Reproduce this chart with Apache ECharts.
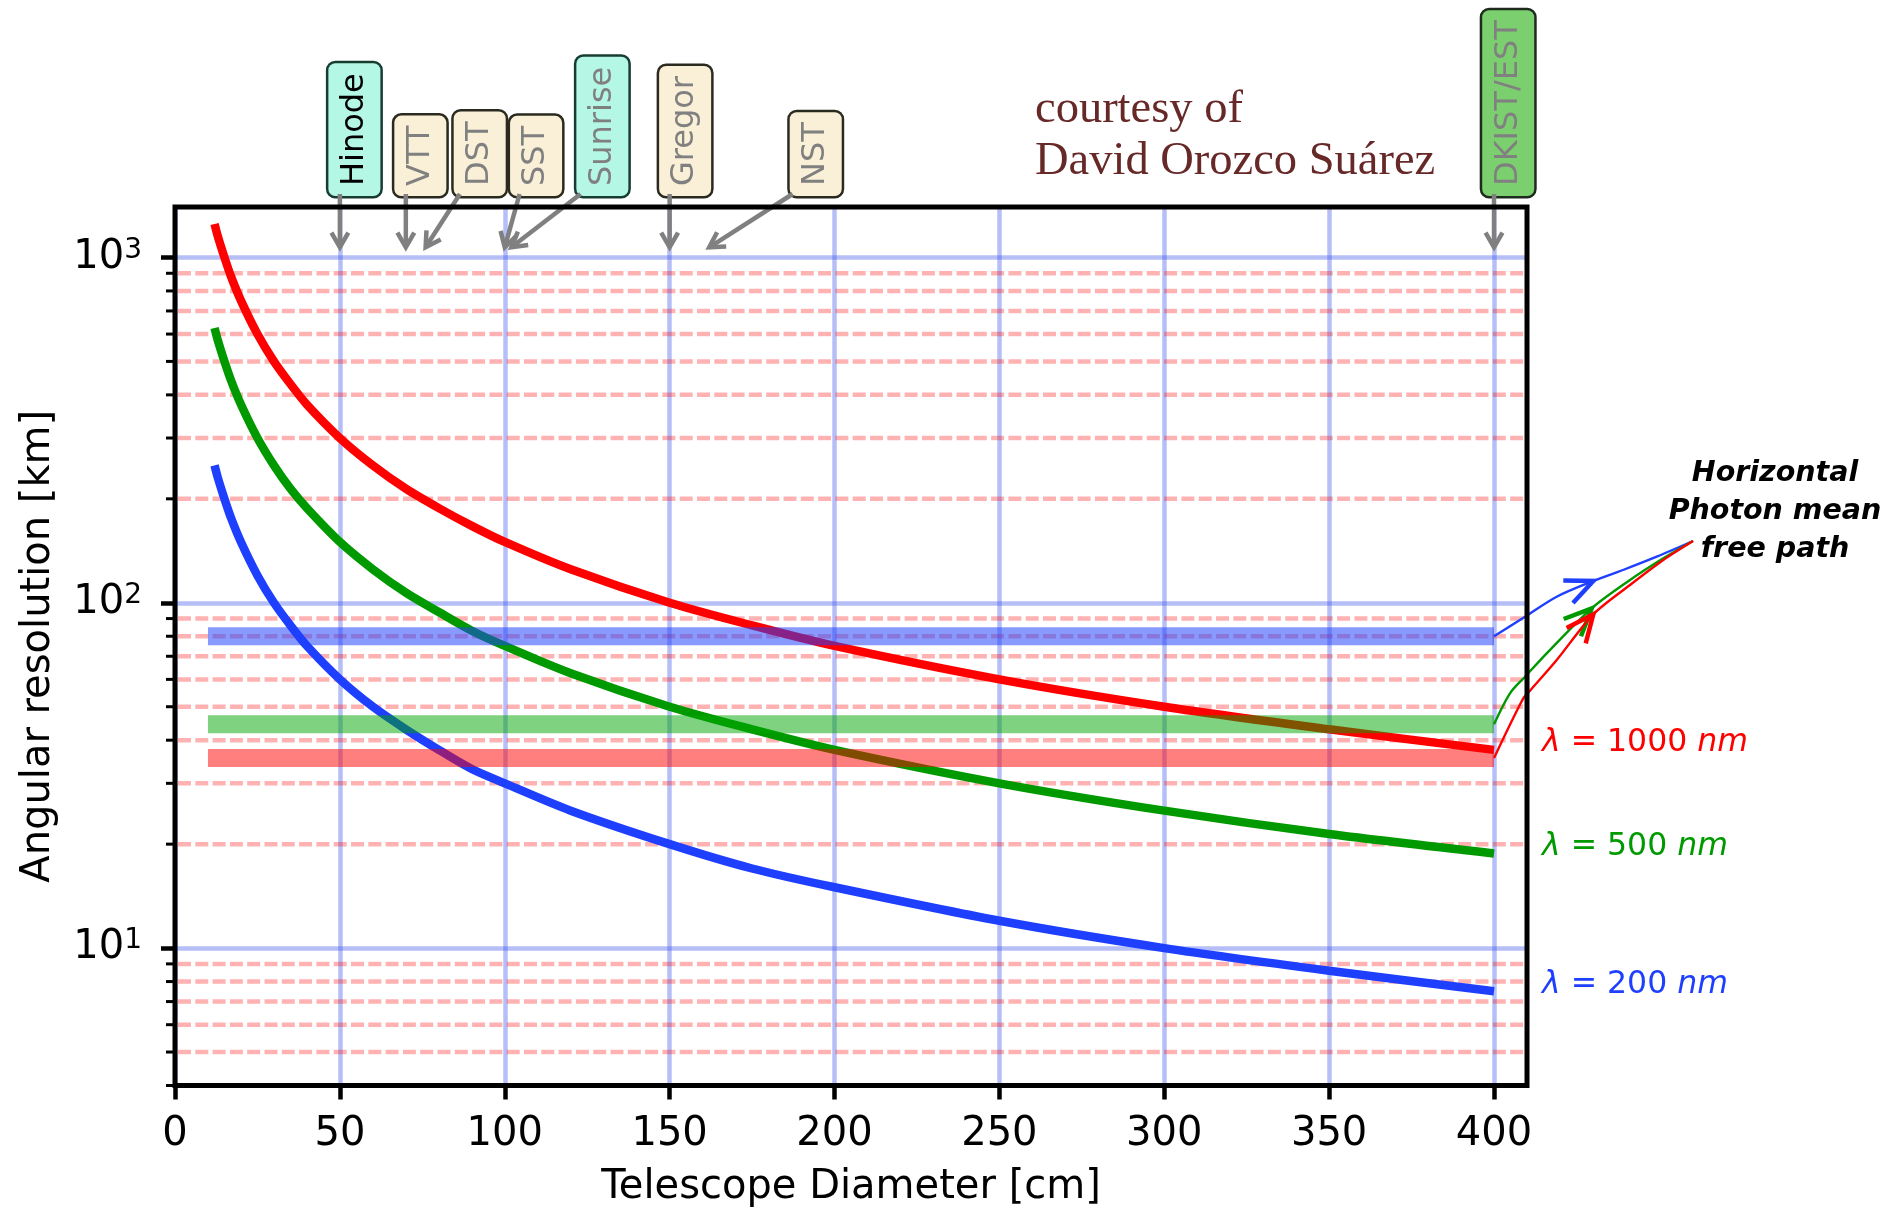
<!DOCTYPE html>
<html><head><meta charset="utf-8">
<script src="https://cdn.jsdelivr.net/npm/echarts@6/dist/echarts.min.js"></script>
<style>html,body{margin:0;padding:0;background:#fff}#c{width:1894px;height:1210px}</style>
</head><body><div id="c"></div>
<script>
// ---------------- data ----------------
const diameters = [12,13,15,17,20,25,30,35,40,50,60,70,80,90,100,120,150,175,200,250,300,350,400];
const red1000   = [1250,1150,1000,880,750,600,500,430,375,300,250,214,188,167,150,125,100,86,75,60,50,43,37.5];
const green500  = [625,575,500,440,375,300,250,214,188,150,125,107,94,83,75,62.5,50,43,37.5,30,25,21.4,18.8];
const blue200   = [250,230,200,176,150,120,100,86,75,60,50,43,37.5,33,30,25,20,17,15,12,10,8.6,7.5];

// horizontal photon mean free path bands (km)
const bandX      = [10, 400];
const bandBlue   = 80;
const bandGreen  = 44.5;
const bandRed    = 35.5;

// axes
const xTicks      = [0,50,100,150,200,250,300,350,400];
const yMajor      = [10,100,1000];
const yMinor      = [4,5,6,7,8,9,20,30,40,50,60,70,80,90,200,300,400,500,600,700,800,900];
const xMin = 0, xMax = 410, yMin = 4, yMax = 1400;

// telescopes: name, diameter pointed at (cm)
const telNames  = ['Hinode','VTT','DST','SST','Sunrise','Gregor','NST','DKIST/EST'];
const telDiam   = [50, 70, 76, 100, 102, 150, 162, 400];
const telTipKm  = 1070;

const waveLabels = ['1000','500','200'];

// ---------------- annotation layout (not data) ----------------
const telBoxX   = [54.4, 74.4, 92.4, 109.5, 129.6, 154.7, 194.3, 404.3]; // box centre, in axis units
const telTailX  = [50, 70, 86.4, 104.5, 123, 150, 187.3, 400];
const telStyle  = ['cyan','beige','beige','beige','cyan','beige','beige','green'];

const FONT = '"DejaVu Sans", sans-serif';
const cRed = '#ff0000', cGreen = '#009a00', cBlue = '#1f3fff';
const gridBlue = 'rgba(60,85,235,0.38)';
const dashRed = 'rgba(255,0,0,0.3)';

const chart = echarts.init(document.getElementById('c'), null, {renderer:'canvas'});

function pairs(xs, ys){ return xs.map((x,i)=>[x, ys[i]]); }

const option = {
  animation: false,
  backgroundColor: '#fff',
  grid: { left: 175, top: 207, width: 1352, height: 878.5, show: false, containLabel: false, outerBoundsMode: 'none' },
  xAxis: {
    type: 'value', min: xMin, max: xMax, interval: 50,
    axisLine: { show: false },
    axisTick: { show: true, length: 14, inside: false, customValues: xTicks, lineStyle: { color: '#000', width: 4.5 } },
    axisLabel: { customValues: xTicks, fontSize: 40, fontFamily: FONT, color: '#000', margin: 29 },
    splitLine: { show: true, lineStyle: { color: gridBlue, width: 4.5 } },
    name: 'Telescope Diameter [cm]', nameLocation: 'middle', nameGap: 82,
    nameTextStyle: { fontSize: 40, fontFamily: FONT, color: '#000' }
  },
  yAxis: {
    type: 'log', logBase: 10, min: yMin, max: yMax,
    axisLine: { show: false },
    axisTick: { show: true, length: 14, inside: false, customValues: yMajor, lineStyle: { color: '#000', width: 4.5 } },
    axisLabel: {
      customValues: yMajor, margin: 33, fontFamily: FONT, color: '#000',
      formatter: v => '{b|10}{s|' + Math.round(Math.log10(v)) + '}',
      rich: {
        b: { fontSize: 40, fontFamily: FONT, color: '#000' },
        s: { fontSize: 28, fontFamily: FONT, color: '#000', verticalAlign: 'top', padding: [0,0,14,0] }
      }
    },
    splitLine: { show: true, lineStyle: { color: gridBlue, width: 4.5 } },
    minorTick: { show: false }, minorSplitLine: { show: false },
    name: 'Angular resolution [km]', nameLocation: 'middle', nameGap: 116,
    nameTextStyle: { fontSize: 40, fontFamily: FONT, color: '#000' }
  },
  series: [
    {
      type: 'custom', coordinateSystem: 'cartesian2d', z: 2, silent: true,
      data: yMinor.map(v => [xMin, v]),
      renderItem: (params, api) => {
        const v = api.value(1);
        const p0 = api.coord([xMin, v]);
        const p1 = api.coord([xMax, v]);
        const ch = [{ type: 'line', shape: { x1: p0[0]-9, y1: p0[1], x2: p0[0], y2: p0[1] }, style: { stroke: '#000', lineWidth: 3 } }];
        if (v >= 5) ch.push({ type: 'line', shape: { x1: p0[0]+3, y1: p0[1], x2: p1[0]-3, y2: p1[1] },
          style: { stroke: dashRed, lineWidth: 4.5, lineDash: [13, 4.3] } });
        return { type: 'group', children: ch };
      }
    },
    { type: 'line', name: 'λ = 1000 nm', data: pairs(diameters, red1000), smooth: 0.3, showSymbol: false, z: 3,
      lineStyle: { color: cRed, width: 8.5, cap: 'butt' } },
    { type: 'line', name: 'λ = 500 nm', data: pairs(diameters, green500), smooth: 0.3, showSymbol: false, z: 3,
      lineStyle: { color: cGreen, width: 8.5, cap: 'butt' } },
    { type: 'line', name: 'λ = 200 nm', data: pairs(diameters, blue200), smooth: 0.3, showSymbol: false, z: 3,
      lineStyle: { color: cBlue, width: 8.5, cap: 'butt' } },
    { type: 'line', data: bandX.map(x => [x, bandBlue]), showSymbol: false, z: 4,
      lineStyle: { color: 'rgba(32,64,255,0.53)', width: 18, cap: 'butt' } },
    { type: 'line', data: bandX.map(x => [x, bandGreen]), showSymbol: false, z: 4,
      lineStyle: { color: 'rgba(0,165,0,0.5)', width: 18, cap: 'butt' } },
    { type: 'line', data: bandX.map(x => [x, bandRed]), showSymbol: false, z: 4,
      lineStyle: { color: 'rgba(255,0,0,0.5)', width: 18, cap: 'butt' } }
  ]
};
chart.setOption(option);

// ---------------- annotations ----------------
const px = (x, y) => chart.convertToPixel({ gridIndex: 0 }, [x, y]);
const tl = px(xMin, yMax), br = px(xMax, yMin);
const g = [];

function arrow(x1, y1, x2, y2, color, w, len, ang, z){
  const a = Math.atan2(y2 - y1, x2 - x1);
  const l = [x2 - len * Math.cos(a - ang), y2 - len * Math.sin(a - ang)];
  const r = [x2 - len * Math.cos(a + ang), y2 - len * Math.sin(a + ang)];
  g.push({ type: 'line', z: z, shape: { x1, y1, x2, y2 }, style: { stroke: color, lineWidth: w } });
  g.push({ type: 'polyline', z: z, shape: { points: [l, [x2, y2], r] }, style: { stroke: color, lineWidth: w, fill: null } });
}
function head(tip, from, color, w, len, ang){
  const a = Math.atan2(tip[1] - from[1], tip[0] - from[0]);
  const l = [tip[0] - len * Math.cos(a - ang), tip[1] - len * Math.sin(a - ang)];
  const r = [tip[0] - len * Math.cos(a + ang), tip[1] - len * Math.sin(a + ang)];
  g.push({ type: 'polyline', z: 60, shape: { points: [l, tip, r] }, style: { stroke: color, lineWidth: w, fill: null } });
}

// frame
g.push({ type: 'rect', z: 100, shape: { x: tl[0], y: tl[1], width: br[0] - tl[0], height: br[1] - tl[1] },
  style: { fill: null, stroke: '#000', lineWidth: 5 } });

// telescope labels
const boxFill = { cyan: '#b4f7e4', beige: '#faf0d8', green: '#7ccf6e' };
const boxStroke = { cyan: '#173d33', beige: '#2b2a1f', green: '#1d2b1d' };
const boxBottom = tl[1] - 11;
telNames.forEach((name, i) => {
  const cx = px(telBoxX[i], yMax)[0];
  const st = telStyle[i];
  g.push({
    type: 'text', z: 90, x: cx, y: boxBottom, rotation: Math.PI / 2,
    style: {
      text: name, fontSize: 32, fontFamily: FONT, fill: name === 'Hinode' ? '#000' : '#808080',
      align: 'left', verticalAlign: 'middle', lineHeight: 36,
      backgroundColor: boxFill[st], borderColor: boxStroke[st], borderWidth: 2.5, borderRadius: 7, padding: [8, 10]
    }
  });
  const tail = px(telTailX[i], yMax)[0];
  const tip = px(telDiam[i], telTipKm);
  arrow(tail, boxBottom - 2, tip[0], tip[1], '#808080', 4.5, 17, 0.52, 95);
});

// courtesy
g.push({ type: 'text', z: 90, x: 1035, y: 84, style: {
  text: 'courtesy of\nDavid Orozco Suárez', fontSize: 46.5, fontFamily: '"Liberation Serif", serif',
  fill: '#672828', lineHeight: 52, align: 'left', verticalAlign: 'top' } });

// photon mean free path text
g.push({ type: 'text', z: 90, x: 1775, y: 512, style: {
  text: 'Horizontal\nPhoton mean\nfree path', fontSize: 28.5, fontFamily: FONT, fontStyle: 'italic', fontWeight: 'bold',
  fill: '#000', lineHeight: 38, align: 'center', verticalAlign: 'middle' } });

// curved arrows from band ends to the text
const endPt = [1693, 541];
const photonPaths = [
  { c: cBlue,  v: bandBlue,  pts: [[1525,616.7],[1556.7,596.7],[1593.3,581],[1623,570],[1656.7,556.7]], tip: 2 },
  { c: cGreen, v: bandGreen, pts: [[1510,693.3],[1525,676.7],[1546.7,653.3],[1591.7,608.3],[1630,580],[1663.3,558.3]], tip: 3 },
  { c: cRed,   v: bandRed,   pts: [[1523.3,698.3],[1530,690.7],[1556.7,660],[1593.3,614.3],[1630,585],[1663.3,560]], tip: 3 }
];
photonPaths.forEach(p => {
  const s = px(bandX[1], p.v);
  const pts = [s].concat(p.pts, [endPt]);
  g.push({ type: 'polyline', z: 60, shape: { points: pts, smooth: 0.3 }, style: { stroke: p.c, lineWidth: 2.4, fill: null } });
  head(p.pts[p.tip], p.pts[p.tip - 1], p.c, 4.5, 30, 0.42);
});

// wavelength labels
const waveColors = [cRed, cGreen, cBlue];
const waveY = [743, 847, 985];
waveLabels.forEach((w, i) => {
  g.push({ type: 'text', z: 90, x: br[0] + 15, y: waveY[i], style: {
    text: '{i|λ}{n| = ' + w + ' }{i|nm}', align: 'left', verticalAlign: 'middle',
    rich: {
      i: { fontSize: 31.5, fontFamily: FONT, fontStyle: 'italic', fill: waveColors[i] },
      n: { fontSize: 31.5, fontFamily: FONT, fill: waveColors[i] }
    } } });
});

chart.setOption({ graphic: { elements: g } });
</script>
</body></html>
